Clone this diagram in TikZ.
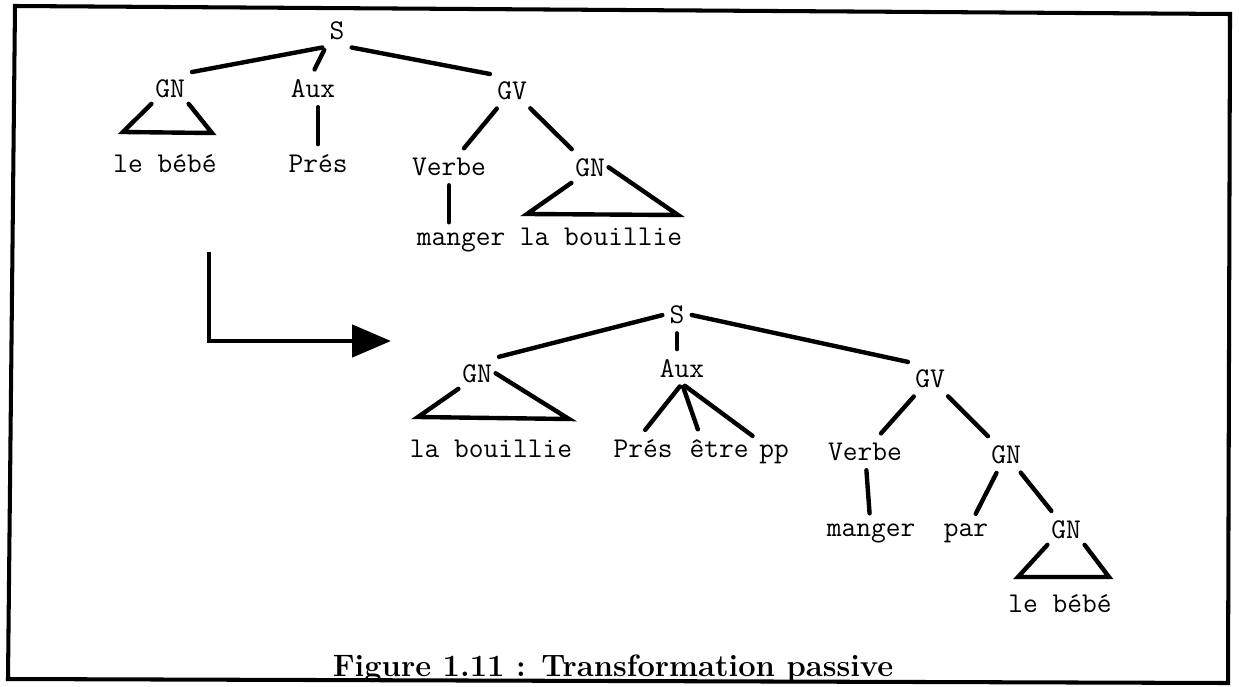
\documentclass[tikz,border=0pt]{standalone}
\usepackage{fontspec}
\usepackage{tikz}
\usetikzlibrary{arrows.meta, positioning, calc}

\begin{document}
\begin{tikzpicture}[
        x=0.02cm, y=-0.02cm,
        cat/.style={font=\ttfamily\fontsize{16.3}{18}\selectfont, inner xsep=2pt, inner ysep=3.5pt, anchor=base},
        leaf/.style={cat},
        branch/.style={line width=2.5pt, line cap=round, shorten <=2pt, shorten >=2pt},
        roof/.style={line width=2.5pt, line cap=round, line join=miter},
        transfo/.style={line width=2.8pt, -{Triangle[length=0.78cm, width=0.64cm]}},
        cadre/.style={line width=2.3pt, line join=miter},
        caption/.style={font=\fontsize{17.6}{20}\selectfont\bfseries, inner sep=0pt, anchor=base}
    ]

    \useasboundingbox (0,0) rectangle (1239,686);

    % Frame
    \draw[cadre] (15,6) -- (1230,14) -- (1228,683) -- (8,679) -- cycle;

    % Deep structure
    \node[cat] (s1) at (337,40) {S};
    \node[cat] (gn1) at (170,97) {GN};
    \node[cat] (aux1) at (313,97) {Aux};
    \node[cat] (gv1) at (512,99) {GV};
    \node[leaf] (bebe1) at (165,172) {le bébé};
    \node[leaf] (pres1) at (318,172) {Prés};
    \node[cat] (verbe1) at (449,175) {Verbe};
    \node[cat] (gn2) at (590,176) {GN};
    \node[leaf] (manger1) at (461,245) {manger};
    \node[leaf] (bouillie1) at (601,245) {la bouillie};

    \coordinate (rf1l) at (123,132);
    \coordinate (rf1r) at (212,133);
    \coordinate (rf2l) at (527,214);
    \coordinate (rf2r) at (678,215);

    \draw[branch] (s1.south west) -- (gn1.north east);
    \draw[branch] (s1.south west) -- (aux1.north);
    \draw[branch] (s1.south east) -- (gv1.north west);
    \draw[branch] (pres1.north |- aux1.south) -- (pres1.north);
    \draw[branch] (gv1) -- (verbe1);
    \draw[branch] (gv1) -- (gn2);
    \draw[branch] (verbe1.south) -- (verbe1.south |- manger1.north);
    \draw[roof] (gn1.south west) -- (rf1l) -- (rf1r) -- (gn1.south east);
    \draw[roof] (gn2.south west) -- (rf2l) -- (rf2r) -- (gn2.east);

    % Transformation
    \coordinate (trstart) at (209,252);
    \coordinate (trend) at (391,341);
    \draw[transfo] (trstart) |- (trend);

    % Surface structure
    \node[cat] (s2) at (677,323) {S};
    \node[cat] (gn3) at (477,382) {GN};
    \node[cat] (aux2) at (682,377) {Aux};
    \node[cat] (gv2) at (930,387) {GV};
    \node[leaf] (bouillie2) at (491,457) {la bouillie};
    \node[leaf] (pres2) at (643,457) {Prés};
    \node[leaf] (etre) at (719,457) {être};
    \node[leaf] (pp) at (774,457) {pp};
    \node[cat] (verbe2) at (865,460) {Verbe};
    \node[cat] (gn4) at (1006,463) {GN};
    \node[leaf] (manger2) at (871,536) {manger};
    \node[leaf] (par) at (966,536) {par};
    \node[cat] (gn5) at (1066,538) {GN};
    \node[leaf] (bebe2) at (1060,612) {le bébé};

    \coordinate (rf3l) at (418,417);
    \coordinate (rf3r) at (569,419);
    \coordinate (rf5l) at (1018,577);
    \coordinate (rf5r) at (1109,577);

    \draw[branch] (s2.west) -- (gn3.north east);
    \draw[branch] (s2.south) -- (aux2.north -| s2.south);
    \draw[branch] (s2.east) -- (gv2.north west);
    \draw[branch] (aux2.south) -- (pres2.north);
    \draw[branch] (aux2.south) -- ($(etre.north west)!0.2!(etre.north east)$);
    \draw[branch] (aux2.south) -- (pp.north west);
    \draw[branch] (gv2) -- (verbe2);
    \draw[branch] (gv2) -- (gn4);
    \draw[branch] (verbe2) -- (manger2);
    \draw[branch] (gn4) -- (par);
    \draw[branch] (gn4) -- (gn5);
    \draw[roof] (gn3.south west) -- (rf3l) -- (rf3r) -- (gn3.east);
    \draw[roof] (gn5.south west) -- (rf5l) -- (rf5r) -- (gn5.south east);

    % Caption
    \node[caption] (legende) at (613,676) {Figure 1.11 : Transformation passive};

\end{tikzpicture}
\end{document}
